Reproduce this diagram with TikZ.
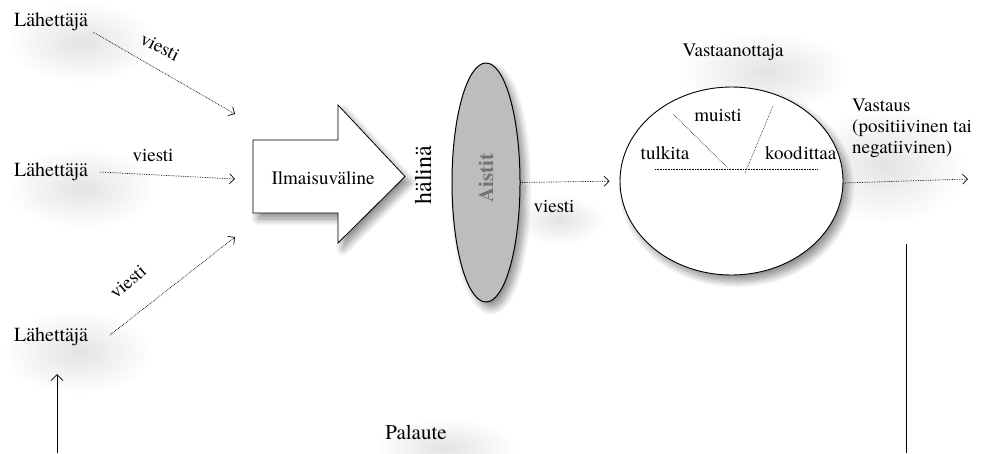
\documentclass[tikz,border=0pt]{standalone}
\usepackage{fontspec}
\setmainfont{texgyretermes-regular.otf}[BoldFont=texgyretermes-bold.otf]
\usetikzlibrary{arrows.meta,shapes.geometric,shadows.blur,fadings}

\tikzfading[name=softspot, inner color=transparent!0, outer color=transparent!100]

\tikzset{
  lbl/.style={inner sep=0pt, font=\fontsize{19}{21}\selectfont},
  sender/.style={inner sep=0pt, font=\fontsize{20}{22}\selectfont},
  msg/.style={densely dotted, line width=0.7pt,
    -{Straight Barb[length=5pt,width=10pt,line width=0.7pt]}},
  innerline/.style={densely dotted, line width=0.6pt},
  halo/.style={black, opacity=0.11, path fading=softspot},
  softshadow/.style={blur shadow={shadow xshift=5pt, shadow yshift=-6pt,
    shadow blur steps=12, shadow blur radius=7pt, shadow opacity=45}},
}

\begin{document}
\begin{tikzpicture}[x=1pt,y=-1pt]
\useasboundingbox (0,0) rectangle (981,453);

% soft halos behind the labels
\fill[halo] (82,42) ellipse (75 and 40);
\fill[halo] (82,188) ellipse (75 and 40);
\fill[halo] (78,352) ellipse (75 and 42);
\fill[halo] (765,72) ellipse (85 and 40);
\fill[halo] (885,165) ellipse (80 and 60);
\fill[halo] (445,448) ellipse (70 and 30);
\fill[halo] (560,220) ellipse (45 and 24);

% senders
\node[sender] (s1) at (51,22) {Lähettäjä};
\node[sender] (s2) at (51,172) {Lähettäjä};
\node[sender] (s3) at (51,337) {Lähettäjä};

% medium arrow
\coordinate (mA) at (253,140);
\draw[fill=white, line width=0.8pt, softshadow]
  (mA) -- (338,140) -- (338,105) -- (405,176.5) -- (338,243) -- (338,213)
  -- (253,213) -- cycle;
\node[lbl] (medium) at (323,178) {Ilmaisuväline};

% message arrows from the senders
\coordinate (a1s) at (93,32);   \coordinate (a1e) at (235,114);
\coordinate (a2s) at (100,172); \coordinate (a2e) at (235,179);
\coordinate (a3s) at (110,335); \coordinate (a3e) at (235,237);
\draw[msg] (a1s) -- (a1e);
\draw[msg] (a2s) -- (a2e);
\draw[msg] (a3s) -- (a3e);
\node[lbl, rotate=-27] (v1) at (160,47) {viesti};
\node[lbl] (v2) at (153,156) {viesti};
\node[lbl, rotate=40] (v3) at (128,282) {viesti};

% noise and senses
\node[inner sep=0pt, rotate=90, font=\fontsize{24}{26}\selectfont] (noise) at (423,175) {hälinä};
\node[ellipse, draw, line width=1pt, fill=black!26, minimum width=68pt,
  minimum height=239pt, inner sep=0pt, softshadow] (aistit) at (486,182.5) {};
\node[inner sep=0pt, rotate=90, text=black!55, font=\fontsize{21}{23}\selectfont\bfseries]
  (aistlbl) at (486,178) {Aistit};

% receiver
\node[lbl] (recv) at (733,52) {Vastaanottaja};
\node[ellipse, draw, line width=0.9pt, fill=white, minimum width=223pt,
  minimum height=188pt, inner sep=0pt, softshadow] (vast) at (731.5,181) {};

\draw[msg, shorten >=10pt] (aistit.east) -- (vast.west);
\node[lbl] (v4) at (554,207) {viesti};

% inner structure of the receiver
\draw[innerline] (655,169) -- (817,169);
\draw[innerline] (673,114) -- (729,169);
\draw[innerline] (773,106) -- (745,173);
\node[lbl] (muisti) at (718,116) {muisti};
\node[lbl] (tulkita) at (665,153) {tulkita};
\node[lbl, anchor=west] (kood) at (765,153) {kood\kern1pt ittaa};

% response
\node[lbl, anchor=north west, align=left]
  (resp) at (852,99) {Vastaus\\(positiivinen tai\\negatiivinen)};
\coordinate (out) at (968,179);
\draw[msg] (vast.east) ++(0,2) coordinate (vE) -- (out);

% feedback
\coordinate (fbT) at (906,244);
\coordinate (fbB) at (906,453);
\draw[line width=1pt] (fbT) -- (fbB);
\coordinate (fbL) at (57,453);
\coordinate (fbH) at (57,374);
\draw[line width=0.8pt, -{Straight Barb[length=6pt,width=12pt,line width=0.8pt]}] (fbL) -- (fbH);
\node[font=\fontsize{21}{23}\selectfont, inner sep=0pt] (palaute) at (416,432) {Palaute};
\end{tikzpicture}
\end{document}
